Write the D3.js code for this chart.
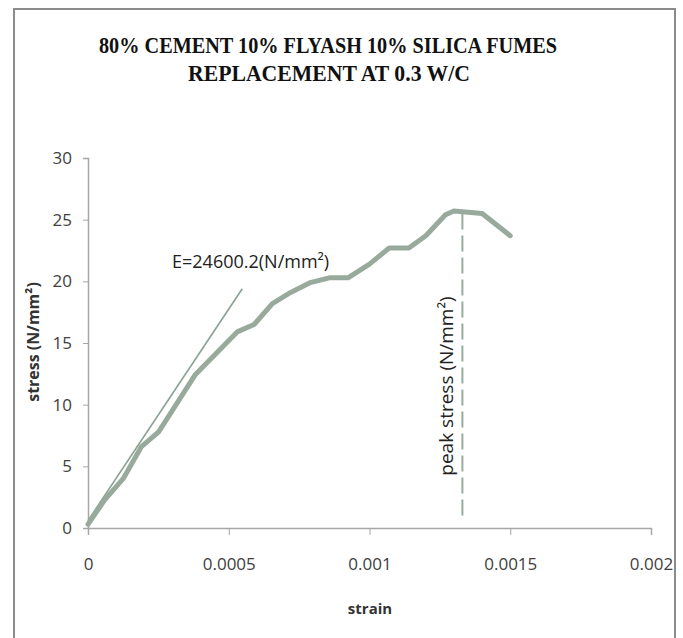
<!DOCTYPE html>
<html>
<head>
<meta charset="utf-8">
<script src="https://cdn.jsdelivr.net/npm/d3@7"></script>
<style>
  body { margin: 0; background: #fff; }
  .axis path, .axis line { stroke: #a6a6a6; }
  .axis text { font-family: "Open Sans", sans-serif; font-size: 17px; fill: #404040; }
</style>
</head>
<body>
<div id="vis"></div>
<script>
// measured curve
var strain = [0, 0.00006, 0.000125, 0.00019, 0.000251, 0.00038, 0.00053, 0.00059, 0.000655,
    0.00072, 0.00079, 0.00086, 0.000925, 0.001, 0.00107, 0.00114, 0.0012, 0.00127, 0.0013,
    0.0014, 0.0015];
var stress = [0.3, 2.3, 4.0, 6.6, 7.8, 12.4, 15.9, 16.5, 18.2,
    19.1, 19.9, 20.3, 20.3, 21.4, 22.7, 22.7, 23.7, 25.4, 25.7,
    25.5, 23.7];

// initial tangent (modulus) line
var tangentStrain = [0, 0.000548];
var tangentStress = [0.6, 19.4];

// peak stress marker
var peakStrain = [0.00133, 0.00133];
var peakStress = [25.5, 0.7];

var xTicks = [0, 0.0005, 0.001, 0.0015, 0.002];
var yTicks = [0, 5, 10, 15, 20, 25, 30];

var width = 683;
var height = 638;

var margin = {
    top: 158,
    left: 88,
    right: 32,
    bottom: 110
};

var svg = d3.select("#vis")
    .append("svg")
    .attr("width", width)
    .attr("height", height);

// outer frame
svg.append("rect")
    .attr("x", 14)
    .attr("y", 9)
    .attr("width", 661)
    .attr("height", 640)
    .attr("fill", "none")
    .attr("stroke", "#8c8c8c")
    .attr("stroke-width", 2);

var title = svg.append("g")
    .attr("font-family", "'Liberation Serif', 'Times New Roman', serif")
    .attr("font-weight", "bold")
    .attr("font-size", 23)
    .attr("text-anchor", "middle")
    .attr("fill", "#111");
title.append("text")
    .attr("x", 328).attr("y", 53)
    .attr("textLength", 458)
    .attr("lengthAdjust", "spacingAndGlyphs")
    .text("80% CEMENT 10% FLYASH 10% SILICA FUMES");
title.append("text")
    .attr("x", 329).attr("y", 81)
    .attr("textLength", 282)
    .attr("lengthAdjust", "spacingAndGlyphs")
    .text("REPLACEMENT AT 0.3 W/C");

var g = svg.append("g")
    .attr("transform", "translate(" + margin.left + "," + margin.top + ")");

var w = width - margin.left - margin.right;
var h = height - margin.top - margin.bottom;

var xscale = d3.scaleLinear()
    .domain([0, 0.002])
    .range([0, w]);

var yscale = d3.scaleLinear()
    .domain([0, 30])
    .range([h, 0]);

var xaxis = d3.axisBottom(xscale)
    .tickValues(xTicks)
    .tickSize(7)
    .tickPadding(23)
    .tickFormat(function (d) { return d === 0 ? "0" : String(+d.toFixed(4)); });

var yaxis = d3.axisLeft(yscale)
    .tickValues(yTicks)
    .tickSize(5)
    .tickPadding(11)
    .tickFormat(d3.format("d"));

g.append("g")
    .attr("class", "x axis")
    .attr("transform", "translate(0," + h + ")")
    .call(xaxis);

g.append("g")
    .attr("class", "y axis")
    .call(yaxis);

g.selectAll(".axis path").attr("stroke-width", 1.5);

var line = d3.line()
    .x(function (d) { return xscale(d[0]); })
    .y(function (d) { return yscale(d[1]); });

// tangent
g.append("path")
    .datum(d3.zip(tangentStrain, tangentStress))
    .attr("fill", "none")
    .attr("stroke", "#8aa092")
    .attr("stroke-width", 1.6)
    .attr("d", line);

// stress-strain curve
g.append("path")
    .datum(d3.zip(strain, stress))
    .attr("fill", "none")
    .attr("stroke", "#97aa9c")
    .attr("stroke-width", 5)
    .attr("stroke-linejoin", "round")
    .attr("stroke-linecap", "round")
    .attr("d", line);

// peak dashed line
g.append("path")
    .datum(d3.zip(peakStrain, peakStress))
    .attr("fill", "none")
    .attr("stroke", "#9aab9f")
    .attr("stroke-width", 2)
    .attr("stroke-dasharray", "16,6")
    .attr("d", line);

// annotations
svg.append("text")
    .attr("x", 172)
    .attr("y", 268)
    .attr("font-family", "'Open Sans', sans-serif")
    .attr("font-size", 18)
    .attr("fill", "#222")
    .text("E=24600.2(N/mm²)");

svg.append("text")
    .attr("transform", "translate(453,386) rotate(-90)")
    .attr("text-anchor", "middle")
    .attr("font-family", "'Open Sans', sans-serif")
    .attr("font-size", 19)
    .attr("fill", "#222")
    .text("peak stress (N/mm²)");

// axis titles
svg.append("text")
    .attr("x", 370)
    .attr("y", 614)
    .attr("text-anchor", "middle")
    .attr("font-family", "'Open Sans', sans-serif")
    .attr("font-weight", "bold")
    .attr("font-size", 15)
    .attr("fill", "#333")
    .text("strain");

svg.append("text")
    .attr("transform", "translate(39,342) rotate(-90)")
    .attr("text-anchor", "middle")
    .attr("font-family", "'Open Sans', sans-serif")
    .attr("font-weight", "bold")
    .attr("font-size", 16)
    .attr("fill", "#333")
    .text("stress (N/mm²)");
</script>
</body>
</html>
